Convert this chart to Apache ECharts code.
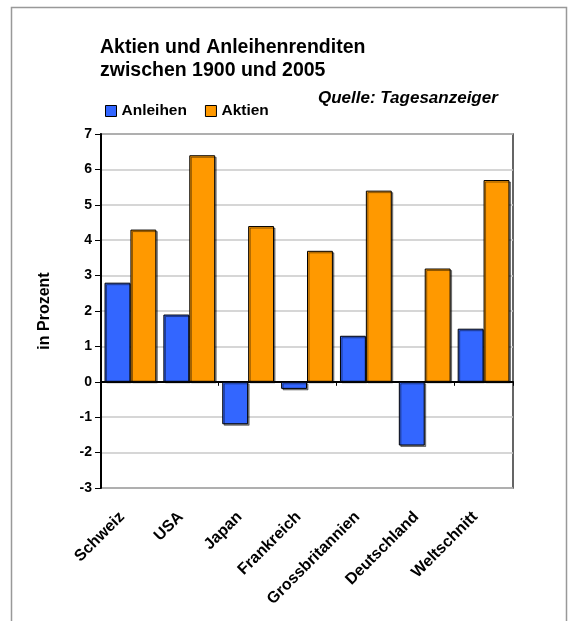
<!DOCTYPE html>
<html>
<head>
<meta charset="utf-8">
<script src="https://cdn.jsdelivr.net/npm/echarts@6/dist/echarts.min.js"></script>
<style>
  html, body { margin: 0; padding: 0; background: #fff; }
  #chart { width: 569px; height: 621px; }
</style>
</head>
<body>
<div id="chart"></div>
<script>
var categories = ['Schweiz', 'USA', 'Japan', 'Frankreich', 'Grossbritannien', 'Deutschland', 'Weltschnitt'];
var anleihen = [2.8, 1.9, -1.2, -0.2, 1.3, -1.8, 1.5];
var aktien = [4.3, 6.4, 4.4, 3.7, 5.4, 3.2, 5.7];

var font = 'Liberation Sans, Arial, sans-serif';

// bars get a thin grey drop shadow like the spreadsheet original
var barStyle = {
  borderColor: '#000',
  borderWidth: 1,
  shadowColor: 'rgba(0,0,0,0.45)',
  shadowOffsetX: 1.5,
  shadowOffsetY: 1.5,
  shadowBlur: 0
};

var option = {
  animation: false,
  color: ['#3366ff', '#ff9900'],
  title: {
    text: 'Aktien und Anleihenrenditen\nzwischen 1900 und 2005',
    left: 95,
    top: 31,
    textStyle: { fontFamily: font, fontSize: 19.5, fontWeight: 'bold', color: '#000', lineHeight: 23 }
  },
  legend: {
    left: 100,
    top: 98,
    itemWidth: 11,
    itemHeight: 11,
    itemGap: 18,
    icon: 'rect',
    textStyle: { fontFamily: font, fontSize: 15.5, fontWeight: 'bold', color: '#000' },
    itemStyle: { borderColor: '#000', borderWidth: 1 },
    data: ['Anleihen', 'Aktien']
  },
  graphic: [
    {
      type: 'rect',
      shape: { x: 11.5, y: 7.5, width: 555, height: 640 },
      style: { fill: 'none', stroke: '#999', lineWidth: 1.5 },
      z: -10
    },
    {
      type: 'text',
      x: 318,
      y: 90,
      style: { text: 'Quelle: Tagesanzeiger', font: 'italic bold 17px ' + font, fill: '#000' }
    }
  ],
  grid: {
    left: 101,
    right: 56,
    top: 134,
    bottom: 133,
    show: true,
    borderColor: '#333',
    borderWidth: 1.5,
    backgroundColor: 'transparent'
  },
  xAxis: [
    {
      type: 'category',
      data: categories,
      position: 'bottom',
      axisLine: { show: false, onZero: false },
      axisTick: { show: false },
      axisLabel: {
        rotate: 45,
        interval: 0,
        margin: 18,
        padding: [0, 12, 0, 0],
        fontFamily: font,
        fontSize: 16,
        fontWeight: 'bold',
        color: '#000'
      }
    },
    {
      type: 'category',
      data: categories,
      position: 'top',
      axisLine: { show: true, onZero: true, lineStyle: { color: '#000', width: 2 } },
      axisTick: { show: true, inside: true, length: 4, lineStyle: { color: '#000' } },
      axisLabel: { show: false },
      splitLine: { show: false }
    }
  ],
  yAxis: {
    type: 'value',
    min: -3,
    max: 7,
    interval: 1,
    name: 'in Prozent',
    nameLocation: 'middle',
    nameGap: 48,
    nameTextStyle: { fontFamily: font, fontSize: 16, fontWeight: 'bold', color: '#000' },
    axisLine: { show: true, lineStyle: { color: '#000', width: 2 } },
    axisTick: { show: true, length: 6, lineStyle: { color: '#000' } },
    axisLabel: { margin: 9, fontFamily: font, fontSize: 14, fontWeight: 'bold', color: '#000' },
    splitLine: { lineStyle: { color: '#c8c8c8', width: 1.5 } }
  },
  series: [
    {
      name: 'Anleihen',
      type: 'bar',
      xAxisIndex: 0,
      data: anleihen,
      barGap: '0%',
      barCategoryGap: '12%',
      itemStyle: barStyle
    },
    {
      name: 'Aktien',
      type: 'bar',
      xAxisIndex: 0,
      data: aktien,
      barGap: '0%',
      barCategoryGap: '12%',
      itemStyle: barStyle
    }
  ]
};

var chart = echarts.init(document.getElementById('chart'));
chart.setOption(option);
</script>
</body>
</html>
